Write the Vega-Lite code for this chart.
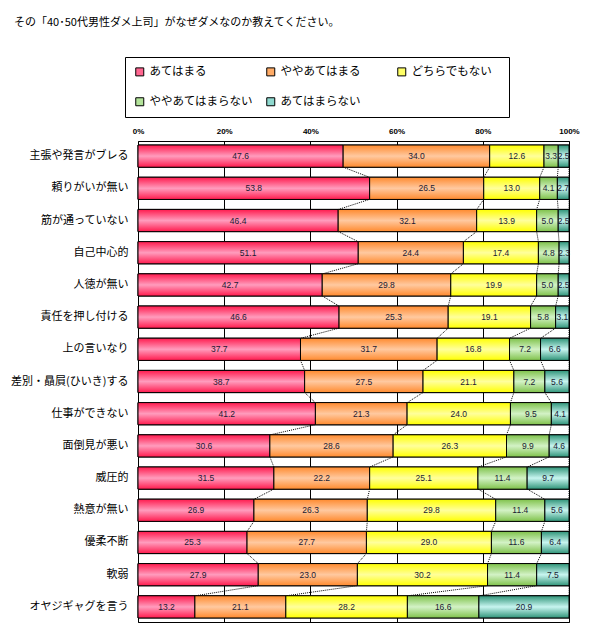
{
  "$schema": "https://vega.github.io/schema/vega-lite/v6.json",
  "width": 431,
  "height": 481,
  "autosize": {"type": "none"},
  "padding": {"left": 138, "top": 141, "right": 36, "bottom": 14},
  "background": "white",
  "title": {
    "text": "その「40･50代男性ダメ上司」がなぜダメなのか教えてください。",
    "anchor": "start",
    "frame": "group",
    "fontSize": 11,
    "fontWeight": "normal",
    "font": "Noto Sans CJK JP",
    "color": "#000000",
    "dx": -124,
    "dy": -25
  },
  "data": {
    "values": [
      {"q": "主張や発言がブレる", "あてはまる": 47.6, "ややあてはまる": 34.0, "どちらでもない": 12.6, "ややあてはまらない": 3.3, "あてはまらない": 2.5},
      {"q": "頼りがいが無い", "あてはまる": 53.8, "ややあてはまる": 26.5, "どちらでもない": 13.0, "ややあてはまらない": 4.1, "あてはまらない": 2.7},
      {"q": "筋が通っていない", "あてはまる": 46.4, "ややあてはまる": 32.1, "どちらでもない": 13.9, "ややあてはまらない": 5.0, "あてはまらない": 2.5},
      {"q": "自己中心的", "あてはまる": 51.1, "ややあてはまる": 24.4, "どちらでもない": 17.4, "ややあてはまらない": 4.8, "あてはまらない": 2.3},
      {"q": "人徳が無い", "あてはまる": 42.7, "ややあてはまる": 29.8, "どちらでもない": 19.9, "ややあてはまらない": 5.0, "あてはまらない": 2.5},
      {"q": "責任を押し付ける", "あてはまる": 46.6, "ややあてはまる": 25.3, "どちらでもない": 19.1, "ややあてはまらない": 5.8, "あてはまらない": 3.1},
      {"q": "上の言いなり", "あてはまる": 37.7, "ややあてはまる": 31.7, "どちらでもない": 16.8, "ややあてはまらない": 7.2, "あてはまらない": 6.6},
      {"q": "差別・贔屓(ひいき)する", "あてはまる": 38.7, "ややあてはまる": 27.5, "どちらでもない": 21.1, "ややあてはまらない": 7.2, "あてはまらない": 5.6},
      {"q": "仕事ができない", "あてはまる": 41.2, "ややあてはまる": 21.3, "どちらでもない": 24.0, "ややあてはまらない": 9.5, "あてはまらない": 4.1},
      {"q": "面倒見が悪い", "あてはまる": 30.6, "ややあてはまる": 28.6, "どちらでもない": 26.3, "ややあてはまらない": 9.9, "あてはまらない": 4.6},
      {"q": "威圧的", "あてはまる": 31.5, "ややあてはまる": 22.2, "どちらでもない": 25.1, "ややあてはまらない": 11.4, "あてはまらない": 9.7},
      {"q": "熱意が無い", "あてはまる": 26.9, "ややあてはまる": 26.3, "どちらでもない": 29.8, "ややあてはまらない": 11.4, "あてはまらない": 5.6},
      {"q": "優柔不断", "あてはまる": 25.3, "ややあてはまる": 27.7, "どちらでもない": 29.0, "ややあてはまらない": 11.6, "あてはまらない": 6.4},
      {"q": "軟弱", "あてはまる": 27.9, "ややあてはまる": 23.0, "どちらでもない": 30.2, "ややあてはまらない": 11.4, "あてはまらない": 7.5},
      {"q": "オヤジギャグを言う", "あてはまる": 13.2, "ややあてはまる": 21.1, "どちらでもない": 28.2, "ややあてはまらない": 16.6, "あてはまらない": 20.9}
    ]
  },
  "transform": [
    {"fold": ["あてはまる", "ややあてはまる", "どちらでもない", "ややあてはまらない", "あてはまらない"], "as": ["a", "v"]},
    {"window": [{"op": "row_number", "as": "k"}], "groupby": ["q"]},
    {"stack": "v", "groupby": ["q"], "sort": [{"field": "k", "order": "ascending"}], "offset": "normalize", "as": ["v0", "v1"]}
  ],
  "encoding": {
    "y": {
      "field": "q",
      "type": "nominal",
      "sort": null,
      "scale": {"paddingInner": 0.31, "paddingOuter": 0.125},
      "axis": {
        "title": null,
        "ticks": false,
        "domain": false,
        "labelFontSize": 11,
        "labelColor": "#000000",
        "labelPadding": 10,
        "labelFont": "Noto Sans CJK JP",
        "labelLimit": 200
      }
    }
  },
  "layer": [
    {
      "mark": {"type": "bar", "stroke": "#000000", "strokeWidth": 1},
      "encoding": {
        "x": {
          "field": "v0",
          "type": "quantitative",
          "scale": {"domain": [0, 1], "nice": false},
          "axis": {
            "orient": "top",
            "title": null,
            "format": ".0%",
            "values": [0, 0.2, 0.4, 0.6, 0.8, 1],
            "ticks": false,
            "domain": false,
            "grid": true,
            "gridColor": "#000000",
            "gridOpacity": 1,
            "gridWidth": 1,
            "labelFontSize": 8,
            "labelFontWeight": "bold",
            "labelColor": "#000000",
            "labelPadding": 6,
            "labelFlush": false,
            "labelFont": "Liberation Sans"
          }
        },
        "x2": {"field": "v1"},
        "color": {
          "field": "a",
          "type": "nominal",
          "sort": ["あてはまる", "ややあてはまる", "どちらでもない", "ややあてはまらない", "あてはまらない"],
          "scale": {
            "domain": ["あてはまる", "ややあてはまる", "どちらでもない", "ややあてはまらない", "あてはまらない"],
            "range": ["#ff6690", "#ffab66", "#ffff66", "#b3e39a", "#8fd9cf"]
          },
          "legend": {
            "title": "　　",
            "titleOrient": "right",
            "titlePadding": 8,
            "titleFontSize": 11,
            "orient": "none",
            "legendX": -13,
            "legendY": -84,
            "columns": 3,
            "direction": "horizontal",
            "gridAlign": "all",
            "columnPadding": 11,
            "rowPadding": 17,
            "padding": 9,
            "strokeColor": "#000000",
            "symbolType": "square",
            "symbolSize": 64,
            "symbolStrokeColor": "#000000",
            "symbolStrokeWidth": 1,
            "symbolOpacity": 1,
            "labelFontSize": 11.5,
            "labelColor": "#000000",
            "labelFont": "Noto Sans CJK JP",
            "labelOffset": 4,
            "labelLimit": 200
          }
        }
      }
    },
    {
      "transform": [
        {"window": [{"op": "lead", "field": "v1", "as": "nv1"}, {"op": "lead", "field": "q", "as": "nq"}], "groupby": ["a"]},
        {"filter": "datum.nq != null"}
      ],
      "mark": {"type": "rule", "color": "#000000", "strokeWidth": 1, "strokeDash": [1, 1], "yOffset": 11, "y2Offset": -11},
      "encoding": {
        "x": {"field": "v1", "type": "quantitative"},
        "x2": {"field": "nv1"},
        "y2": {"field": "nq"}
      }
    },
    {
      "transform": [{"filter": "datum.a === 'あてはまる'"}],
      "mark": {"type": "bar", "stroke": "#000000", "strokeWidth": 1, "color": {"gradient": "linear", "x1": 0, "y1": 0, "x2": 0, "y2": 1, "stops": [{"offset": 0, "color": "#ff1a4d"}, {"offset": 0.5, "color": "#ff9cbd"}, {"offset": 1, "color": "#ff1a4d"}]}},
      "encoding": {"x": {"field": "v0", "type": "quantitative"}, "x2": {"field": "v1"}}
    },
    {
      "transform": [{"filter": "datum.a === 'ややあてはまる'"}],
      "mark": {"type": "bar", "stroke": "#000000", "strokeWidth": 1, "color": {"gradient": "linear", "x1": 0, "y1": 0, "x2": 0, "y2": 1, "stops": [{"offset": 0, "color": "#ff8a2e"}, {"offset": 0.5, "color": "#ffc9a0"}, {"offset": 1, "color": "#ff8a2e"}]}},
      "encoding": {"x": {"field": "v0", "type": "quantitative"}, "x2": {"field": "v1"}}
    },
    {
      "transform": [{"filter": "datum.a === 'どちらでもない'"}],
      "mark": {"type": "bar", "stroke": "#000000", "strokeWidth": 1, "color": {"gradient": "linear", "x1": 0, "y1": 0, "x2": 0, "y2": 1, "stops": [{"offset": 0, "color": "#ffff00"}, {"offset": 0.5, "color": "#ffff9c"}, {"offset": 1, "color": "#ffff00"}]}},
      "encoding": {"x": {"field": "v0", "type": "quantitative"}, "x2": {"field": "v1"}}
    },
    {
      "transform": [{"filter": "datum.a === 'ややあてはまらない'"}],
      "mark": {"type": "bar", "stroke": "#000000", "strokeWidth": 1, "color": {"gradient": "linear", "x1": 0, "y1": 0, "x2": 0, "y2": 1, "stops": [{"offset": 0, "color": "#7fc24a"}, {"offset": 0.5, "color": "#d3f2c6"}, {"offset": 1, "color": "#7fc24a"}]}},
      "encoding": {"x": {"field": "v0", "type": "quantitative"}, "x2": {"field": "v1"}}
    },
    {
      "transform": [{"filter": "datum.a === 'あてはまらない'"}],
      "mark": {"type": "bar", "stroke": "#000000", "strokeWidth": 1, "color": {"gradient": "linear", "x1": 0, "y1": 0, "x2": 0, "y2": 1, "stops": [{"offset": 0, "color": "#2f9478"}, {"offset": 0.5, "color": "#c8f5f0"}, {"offset": 1, "color": "#2f9478"}]}},
      "encoding": {"x": {"field": "v0", "type": "quantitative"}, "x2": {"field": "v1"}}
    },
    {
      "mark": {"type": "text", "fontSize": 8.5, "font": "Liberation Sans", "color": "#1a1a33", "align": "center", "baseline": "middle"},
      "encoding": {
        "x": {"field": "v", "type": "quantitative", "stack": "normalize", "bandPosition": 0.5},
        "order": {"field": "k", "type": "quantitative"},
        "detail": {"field": "a", "type": "nominal"},
        "text": {"field": "v", "type": "quantitative", "format": ".1f"}
      }
    }
  ],
  "config": {
    "view": {"stroke": "#000000", "strokeWidth": 1},
    "font": "Noto Sans CJK JP"
  }
}
